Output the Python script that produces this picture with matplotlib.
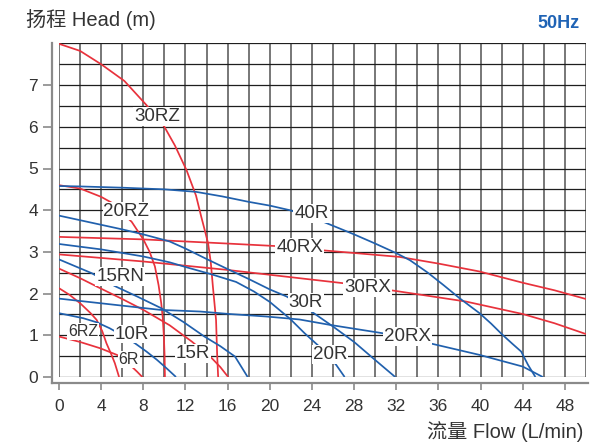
import numpy as np
import matplotlib.pyplot as plt

plt.rcParams['font.family'] = ['Liberation Sans', 'Noto Sans CJK SC']

# pump curves: flow (L/min) vs head (m)
q_30rz = [0, 2, 4, 6.2, 8.3, 10, 11, 12.1, 13, 13.5, 13.85, 14.15, 14.4, 14.6, 14.9, 15.0, 15.1]
h_30rz = [7.99, 7.82, 7.5, 7.1, 6.52, 6.0, 5.55, 4.96, 4.35, 3.84, 3.5, 3.2, 2.75, 2.17, 1.37, 0.57, 0]

q_20rz = [0, 2, 4, 5, 6.9, 8, 8.6, 9.1, 9.45, 9.7, 9.85, 9.95, 10.02, 10.05]
h_20rz = [4.6, 4.52, 4.32, 4.18, 3.72, 3.3, 3.0, 2.65, 2.2, 1.77, 1.4, 0.97, 0.5, 0]

q_40rx = [0, 8, 16, 20.6, 25.4, 32.3, 36, 39.9, 44, 47, 50]
h_40rx = [3.36, 3.3, 3.2, 3.14, 3.03, 2.88, 2.72, 2.53, 2.26, 2.08, 1.87]

q_30rx = [0, 8, 15.9, 22.8, 26.95, 32.3, 38.6, 44, 47, 50]
h_30rx = [2.94, 2.77, 2.57, 2.37, 2.25, 2.05, 1.81, 1.51, 1.29, 1.03]

q_15r = [0, 2, 3.9, 6, 8, 10.5, 12.6, 14.5, 15.3, 16.05]
h_15r = [2.6, 2.37, 2.13, 1.87, 1.61, 1.24, 0.85, 0.45, 0.24, 0]

q_6rz = [0, 1, 2, 3, 3.57, 4.1, 4.5, 5, 5.3, 5.7]
h_6rz = [2.13, 1.97, 1.77, 1.53, 1.37, 1.1, 0.81, 0.52, 0.33, 0]

q_6r = [0, 2, 3.9, 5.5, 6.3, 6.9, 7.4, 7.9]
h_6r = [0.97, 0.84, 0.69, 0.53, 0.39, 0.25, 0.13, 0]

q_40r = [0, 2, 6, 10, 13, 15.5, 18, 20, 21.9, 24.7, 28, 30, 32, 33.3, 35, 36.5,
         38, 39.9, 41, 42, 43, 43.85, 44.5, 45.2]
h_40r = [4.58, 4.57, 4.54, 4.5, 4.44, 4.33, 4.2, 4.11, 4.0, 3.76, 3.42, 3.2, 2.97,
         2.8, 2.5, 2.2, 1.89, 1.53, 1.28, 1.03, 0.8, 0.61, 0.29, 0]

q_30r = [0, 2, 4, 6, 8, 10.5, 12, 14, 15.9, 18, 20, 21.6, 23.95, 26, 28, 29.8, 31.9]
h_30r = [3.87, 3.76, 3.65, 3.54, 3.42, 3.25, 3.08, 2.83, 2.6, 2.35, 2.1, 1.93, 1.57,
         1.21, 0.84, 0.45, 0]

q_20r = [0, 4, 8, 10.5, 12.25, 14.5, 16.8, 18.5, 20, 21.9, 23.3, 24.7, 26.3, 27.1]
h_20r = [3.19, 3.06, 2.89, 2.75, 2.62, 2.46, 2.28, 2.05, 1.8, 1.4, 1.05, 0.73, 0.29, 0]

q_20rx = [0, 3.9, 9.6, 13.4, 16.2, 19.7, 22.8, 25.7, 30.7, 35.5, 39.9, 44, 45.9]
h_20rx = [1.88, 1.77, 1.61, 1.57, 1.51, 1.45, 1.38, 1.25, 1.05, 0.79, 0.53, 0.25, 0]

q_15rn = [0, 1.5, 3.1, 5.3, 7.5, 9.7, 11.8, 13.8, 15.3, 16.7, 17.9]
h_15rn = [2.82, 2.66, 2.49, 2.18, 1.92, 1.65, 1.32, 0.97, 0.74, 0.49, 0]

q_10r = [0, 2.3, 3.6, 4.8, 6, 7.2, 8.3, 9.3, 10.2, 11.1]
h_10r = [1.53, 1.41, 1.31, 1.17, 1.0, 0.81, 0.61, 0.41, 0.21, 0]

# label text and where it sits on the chart
label_names = ['30RZ', '20RZ', '40R', '40RX', '30RX', '30R', '20RX', '20R',
               '15RN', '15R', '10R', '6RZ', '6R']
label_q = [9.3, 6.4, 23.95, 22.85, 29.3, 23.4, 33.1, 25.7, 5.8, 12.7, 6.9, 2.3, 6.6]
label_h = [6.24, 3.98, 3.92, 3.11, 2.15, 1.78, 0.97, 0.53, 2.4, 0.57, 1.03, 1.09, 0.42]

x_ticks = list(range(0, 49, 4))
y_ticks = list(range(0, 8))

RED = '#e8323c'
BLUE = '#2060ad'

curves = [
    (q_30rz, h_30rz, RED), (q_20rz, h_20rz, RED), (q_40rx, h_40rx, RED),
    (q_30rx, h_30rx, RED), (q_15r, h_15r, RED), (q_6rz, h_6rz, RED),
    (q_6r, h_6r, RED),
    (q_40r, h_40r, BLUE), (q_30r, h_30r, BLUE), (q_20r, h_20r, BLUE),
    (q_20rx, h_20rx, BLUE), (q_15rn, h_15rn, BLUE), (q_10r, h_10r, BLUE),
]

fig = plt.figure(figsize=(5.95, 4.47), dpi=100)
ax = fig.add_axes([59 / 595, 70 / 447, 527 / 595, 333.6 / 447])
ax.set_xlim(0, 50)
ax.set_ylim(0, 8)

# grid: vertical lines every 2 L/min, horizontal every 0.5 m
ax.vlines(np.arange(0, 50.1, 2), 0, 8, colors='#777777', lw=1.4, zorder=1)
ax.hlines(np.arange(0, 8.01, 0.5), 0, 50, colors='#1e1e1e', lw=0.9, zorder=1.5)

for q, h, c in curves:
    ax.plot(q, h, color=c, lw=1.25, zorder=3, solid_capstyle='butt',
            solid_joinstyle='round')

for name, q, h in zip(label_names, label_q, label_h):
    fs = 11.5 if name in ('6RZ', '6R') else 13.5
    ax.text(q, h, name, fontsize=fs, color='#333333', ha='center', va='center',
            zorder=4,
            bbox=dict(boxstyle='square,pad=0.05', fc='white', ec='none'))

# axes frame
for s in ('top', 'right'):
    ax.spines[s].set_visible(False)
ax.spines['left'].set_position(('outward', 5))
ax.spines['bottom'].set_position(('outward', 4.3))
ax.spines['left'].set_bounds(-0.15, 8)
ax.spines['bottom'].set_bounds(-0.66, 50.2)
for s in ('left', 'bottom'):
    ax.spines[s].set_color('#8a8a8a')
    ax.spines[s].set_linewidth(1.6)

ax.set_xticks(x_ticks)
ax.set_yticks(y_ticks)
ax.tick_params(axis='x', length=5, width=1.2, color='#8a8a8a', pad=6.5,
               labelsize=12.5, labelcolor='#333333')
ax.tick_params(axis='y', length=6.5, width=1.2, color='#8a8a8a', pad=3.5,
               labelsize=12.5, labelcolor='#333333')

fig.text(26 / 595, 1 - 20 / 447, '扬程 Head (m)', fontsize=14.5, color='#333333',
         ha='left', va='center')
fig.text(580 / 595, 1 - 23 / 447, '50Hz', fontsize=13, fontweight='bold',
         color='#1f63b5', ha='right', va='center')
fig.text(583 / 595, 1 - 432 / 447, '流量 Flow (L/min)', fontsize=14.5,
         color='#333333', ha='right', va='center')

fig.savefig('out.png', dpi=100)
